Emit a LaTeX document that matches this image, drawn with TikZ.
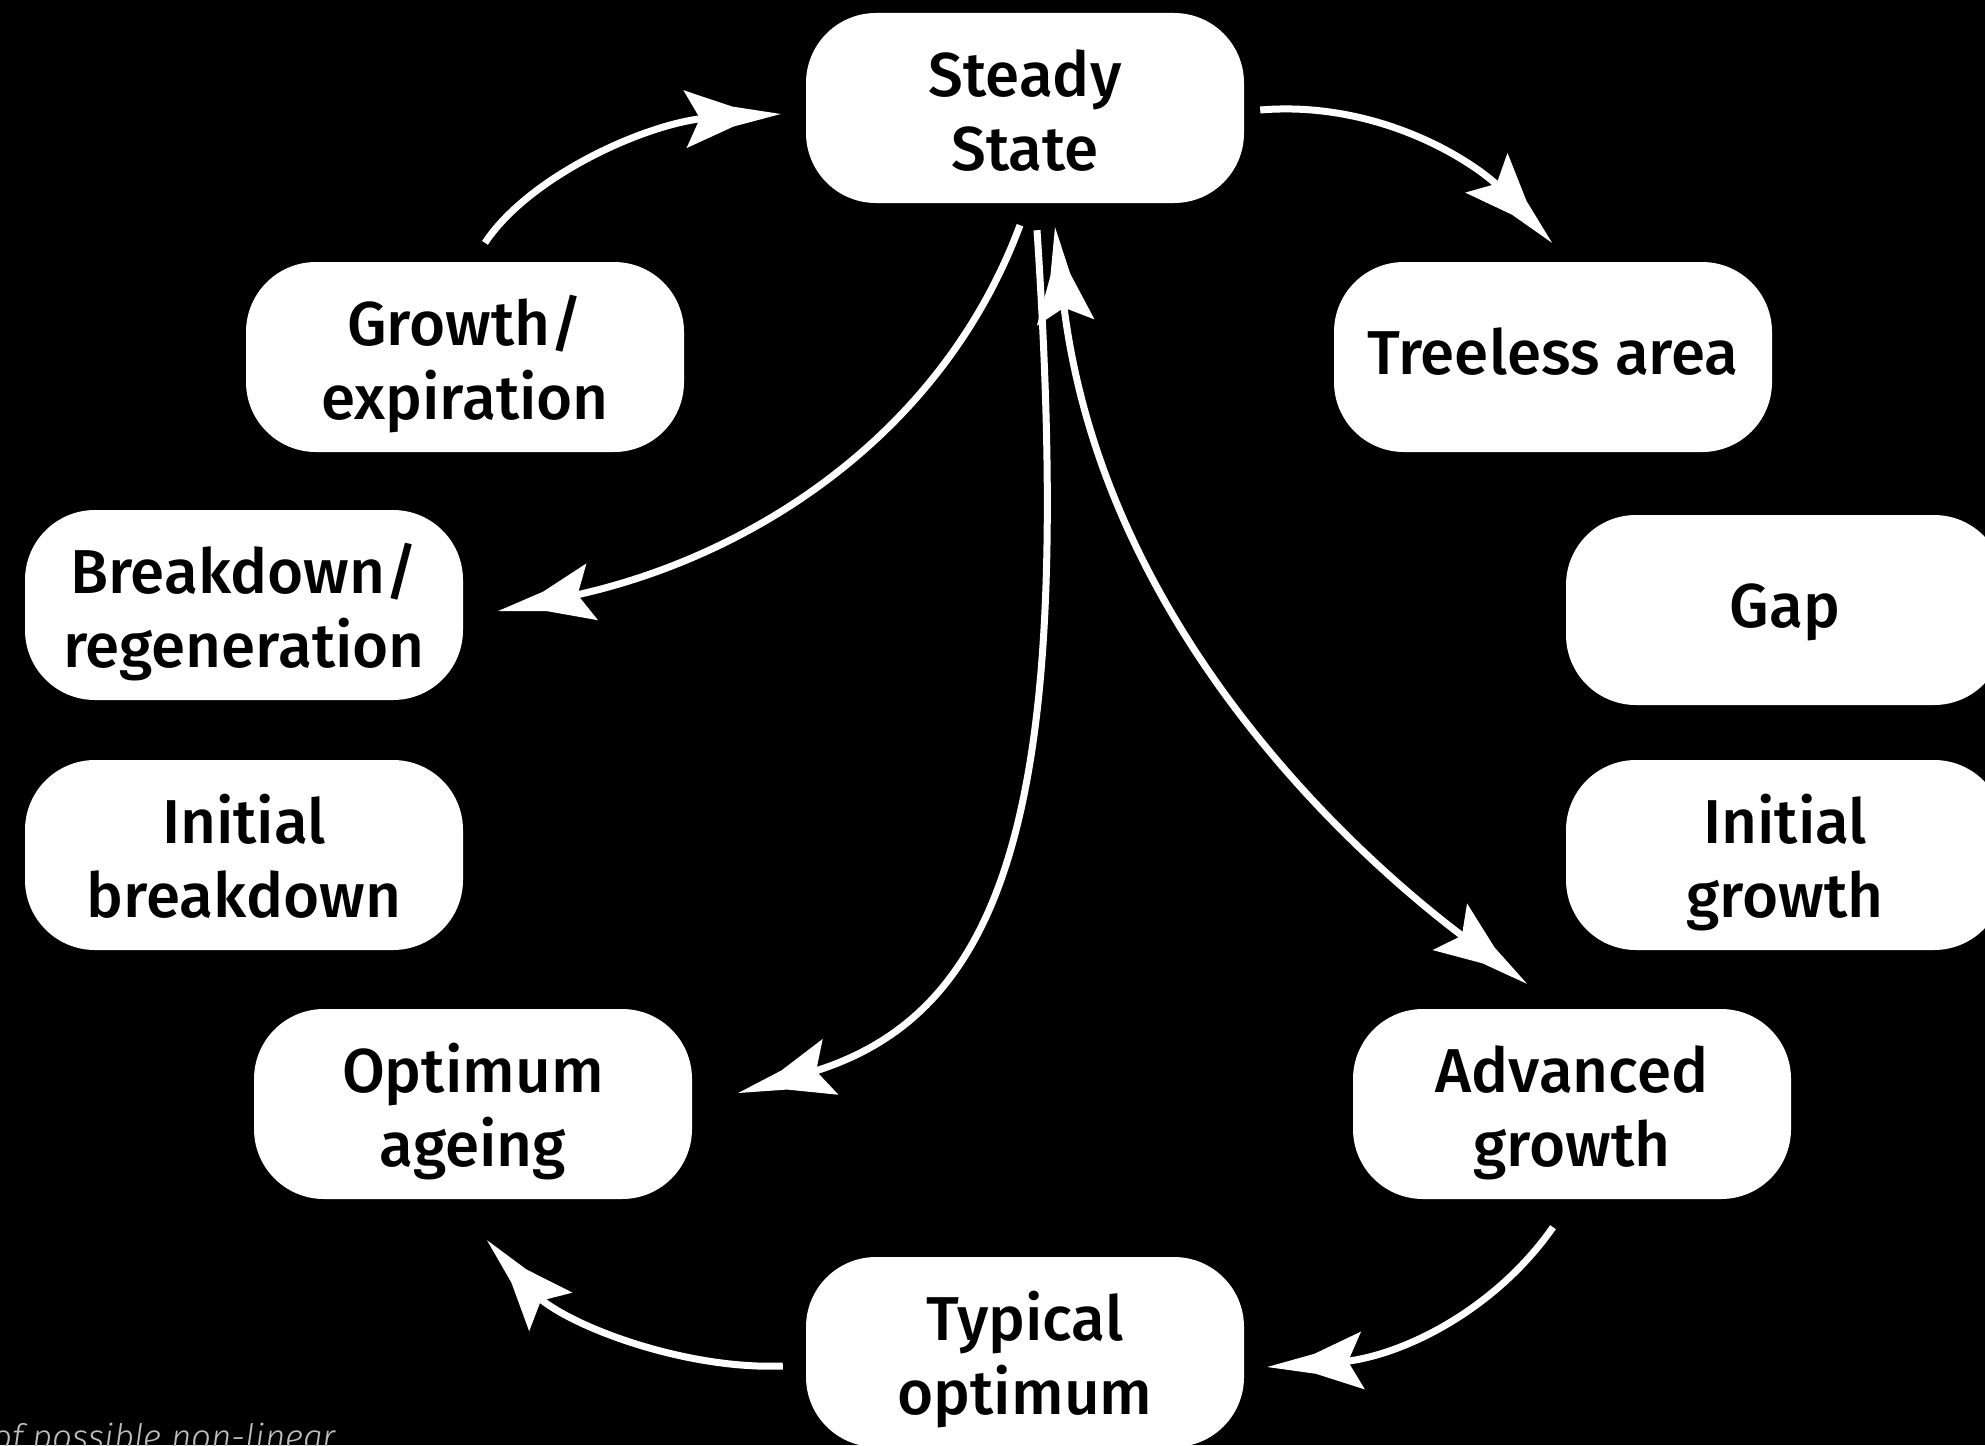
\documentclass[tikz,border=0pt]{standalone}
\usepackage{fontspec}
\setmainfont{Fira Sans}[UprightFont={* Medium}, ItalicFont={* Light Italic}]
\usetikzlibrary{calc,arrows.meta}

% Long flared arrow head with a notched back
\pgfdeclarearrow{
  name = Flared,
  setup code = {
    \pgfarrowssettipend{0pt}
    \pgfarrowssetlineend{-70pt}
    \pgfarrowssetbackend{-96pt}
    \pgfarrowsupperhullpoint{-96pt}{29pt}
    \pgfarrowsupperhullpoint{0pt}{0pt}
  },
  drawing code = {
    \pgfpathmoveto{\pgfpoint{0pt}{0pt}}
    \pgfpathlineto{\pgfpoint{-48pt}{10pt}}
    \pgfpathlineto{\pgfpoint{-96pt}{29pt}}
    \pgfpathlineto{\pgfpoint{-81pt}{0pt}}
    \pgfpathlineto{\pgfpoint{-96pt}{-29pt}}
    \pgfpathlineto{\pgfpoint{-48pt}{-10pt}}
    \pgfpathclose
    \pgfusepathqfill
  }
}

\begin{document}
\begin{tikzpicture}[x=1pt,y=-1pt,
  stage/.style={fill=white, rounded corners=70pt, minimum width=438pt,
    minimum height=190pt, inner sep=0pt, align=center, text=black,
    font=\fontsize{62}{74}\selectfont},
  oneline/.style={stage, text height=47pt, text depth=13pt},
  twoline/.style={stage, text height=136pt, text depth=12pt},
  link/.style={white, line width=7pt, -Flared},
  twolink/.style={white, line width=7pt, Flared-Flared}]

\useasboundingbox (0,0) rectangle (1985,1445);
\fill[black] (0,0) rectangle (1985,1445);

% stages of the cycle
\node[twoline] (ss)  at (1025,108)  {Steady\\State};
\node[oneline] (ta)  at (1553,357)  {Treeless area};
\node[oneline] (gap) at (1785,610)  {Gap};
\node[twoline] (ig)  at (1785,855)  {Initial\\growth};
\node[twoline] (ag)  at (1572,1104) {Advanced\\growth};
\node[twoline] (to)  at (1025,1352) {Typical\\optimum};
\node[twoline] (oa)  at (473,1104)  {Optimum\\ageing};
\node[twoline] (ib)  at (244,855)   {Initial\\breakdown};
\node[twoline] (br)  at (244,605)   {Breakdown/\\regeneration};
\node[twoline] (ge)  at (465,357)   {Growth/\\expiration};

% transitions
\draw[link] ($(ge.north)+(20,-19)$) .. controls +(45,-68) and +(-130,7) .. ($(ss.west)+(-25,6)$);
\draw[link] ($(ss.east)+(16,2)$) .. controls +(120,-10) and +(-75,-80) .. ($(ta.north)+(-1,-19)$);
\draw[link] ($(ss.south)+(-5,22)$) .. controls +(-80,215) and +(245,-50) .. ($(br.east)+(35,6)$);
\draw[link] ($(ss.south)+(12,27)$) .. controls +(38,570) and +(272,-77) .. ($(oa.east)+(46,-11)$);
\draw[twolink] ($(ss.south)+(30,24)$) .. controls +(45,403) and +(-165,-122) .. ($(ag.north)+(-45,-25)$);
\draw[link] ($(ag.south)+(-19,28)$) .. controls +(-58,83) and +(133,-9) .. ($(to.east)+(23,15)$);
\draw[link] ($(to.west)+(-23,14)$) .. controls +(-103,4) and +(73,82) .. ($(oa.south)+(14,41)$);

% footnote fragment
\node[anchor=base west, inner sep=0pt, text=black!25!white,
  font=\fontsize{35}{40}\selectfont\itshape] (note) at (-8,1449) {of possible non-linear};
\end{tikzpicture}
\end{document}
